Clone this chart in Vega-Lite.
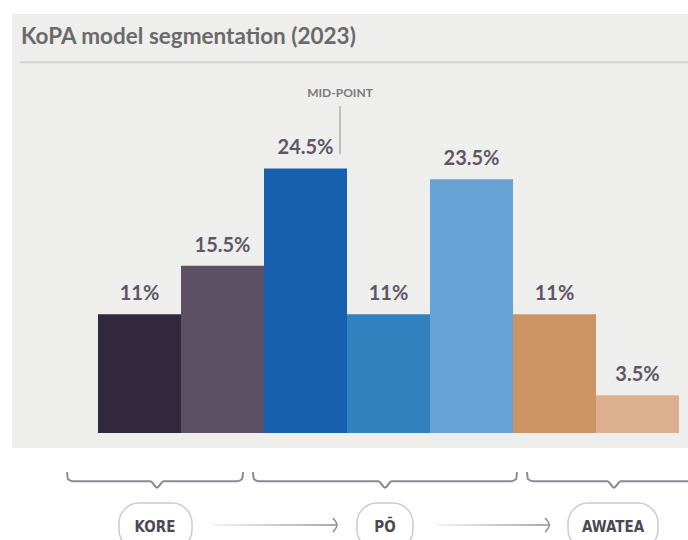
{
  "$schema": "https://vega.github.io/schema/vega-lite/v6.json",
  "width": 688,
  "height": 540,
  "autosize": {"type": "none"},
  "padding": 0,
  "background": "#ffffff",
  "config": {"view": {"stroke": null}, "font": "Lato"},
  "resolve": {"scale": {"x": "independent"}},
  "layer": [
    {
      "layer": [
        {
          "data": {"values": [{"x": -1.0361, "x2": 7.1084, "y": -1.3815, "y2": 38.8}]},
          "mark": {"type": "rect", "color": "#eeeeec"},
          "encoding": {
            "x": {"field": "x", "type": "quantitative", "scale": {"domain": [-1.1807, 7.1084], "nice": false, "zero": false}, "axis": null},
            "x2": {"field": "x2"},
            "y": {"field": "y", "type": "quantitative", "scale": {"domain": [-9.9, 40.1], "nice": false, "zero": false}, "axis": null},
            "y2": {"field": "y2"}
          }
        },
        {
          "data": {"values": [{"x": -0.9398, "x2": 7.1084, "y": 34.33}]},
          "mark": {"type": "rule", "color": "#d3d3d1", "strokeWidth": 2},
          "encoding": {
            "x": {"field": "x", "type": "quantitative", "scale": {"domain": [-1.1807, 7.1084], "nice": false, "zero": false}, "axis": null},
            "x2": {"field": "x2"},
            "y": {"field": "y", "type": "quantitative", "scale": {"domain": [-9.9, 40.1], "nice": false, "zero": false}, "axis": null}
          }
        },
        {
          "data": {"values": [{"x": -0.928, "y": 36.03, "text": "KoPA model segmentation (2023)"}]},
          "mark": {"type": "text", "align": "left", "baseline": "alphabetic", "fontSize": 22.5, "fontWeight": "bold", "color": "#6b6a6a", "font": "Lato"},
          "encoding": {
            "x": {"field": "x", "type": "quantitative", "scale": {"domain": [-1.1807, 7.1084], "nice": false, "zero": false}, "axis": null},
            "y": {"field": "y", "type": "quantitative", "scale": {"domain": [-9.9, 40.1], "nice": false, "zero": false}, "axis": null},
            "text": {"field": "text"}
          }
        }
      ]
    },
    {
      "data": {
        "values": [
          {"segment": "Kore A", "value": 11, "label": "11%"},
          {"segment": "Kore B", "value": 15.5, "label": "15.5%"},
          {"segment": "Pō A", "value": 24.5, "label": "24.5%"},
          {"segment": "Pō B", "value": 11, "label": "11%"},
          {"segment": "Pō C", "value": 23.5, "label": "23.5%"},
          {"segment": "Awatea A", "value": 11, "label": "11%"},
          {"segment": "Awatea B", "value": 3.5, "label": "3.5%"}
        ]
      },
      "encoding": {
        "x": {
          "field": "segment", "type": "nominal", "axis": null,
          "scale": {
            "domain": ["Kore A", "Kore B", "Pō A", "Pō B", "Pō C", "Awatea A", "Awatea B"],
            "paddingInner": 0, "paddingOuter": 0.64458, "align": 0.91589
          }
        },
        "y": {"field": "value", "type": "quantitative", "scale": {"domain": [-9.9, 40.1], "nice": false, "zero": false}, "axis": null}
      },
      "layer": [
        {
          "mark": {"type": "bar"},
          "encoding": {
            "color": {
              "field": "segment", "type": "nominal", "legend": null,
              "scale": {
                "domain": ["Kore A", "Kore B", "Pō A", "Pō B", "Pō C", "Awatea A", "Awatea B"],
                "range": ["#33293f", "#5b5064", "#1660ae", "#3282c0", "#66a2d3", "#cc9365", "#dcb08e"]
              }
            }
          }
        },
        {
          "mark": {"type": "text", "dy": -14, "baseline": "alphabetic", "fontSize": 20, "fontWeight": "bold", "color": "#5e5667", "font": "Lato"},
          "encoding": {"text": {"field": "label"}}
        }
      ]
    },
    {
      "layer": [
        {
          "data": {"values": [{"x": 2.916, "y": 30.28, "y2": 25.84}]},
          "mark": {"type": "rule", "color": "#b0b0b0", "strokeWidth": 1.5},
          "encoding": {
            "x": {"field": "x", "type": "quantitative", "scale": {"domain": [-1.1807, 7.1084], "nice": false, "zero": false}, "axis": null},
            "y": {"field": "y", "type": "quantitative", "scale": {"domain": [-9.9, 40.1], "nice": false, "zero": false}, "axis": null},
            "y2": {"field": "y2"}
          }
        },
        {
          "data": {"values": [{"x": 2.916, "y": 31.12, "text": "MID-POINT"}]},
          "mark": {"type": "text", "align": "center", "baseline": "alphabetic", "fontSize": 12, "fontWeight": "bold", "color": "#7b7b7e", "font": "Lato"},
          "encoding": {
            "x": {"field": "x", "type": "quantitative", "scale": {"domain": [-1.1807, 7.1084], "nice": false, "zero": false}, "axis": null},
            "y": {"field": "y", "type": "quantitative", "scale": {"domain": [-9.9, 40.1], "nice": false, "zero": false}, "axis": null},
            "text": {"field": "text"}
          }
        },
        {
          "data": {
            "values": [
              {"b": "Kore", "o": 1, "x": -0.373, "y": -3.62},
              {"b": "Kore", "o": 2, "x": -0.363, "y": -4.25},
              {"b": "Kore", "o": 3, "x": -0.303, "y": -4.45},
              {"b": "Kore", "o": 4, "x": 0.631, "y": -4.45},
              {"b": "Kore", "o": 5, "x": 0.711, "y": -5.05},
              {"b": "Kore", "o": 6, "x": 0.791, "y": -4.45},
              {"b": "Kore", "o": 7, "x": 1.677, "y": -4.45},
              {"b": "Kore", "o": 8, "x": 1.737, "y": -4.25},
              {"b": "Kore", "o": 9, "x": 1.747, "y": -3.62},
              {"b": "Po", "o": 1, "x": 1.867, "y": -3.62},
              {"b": "Po", "o": 2, "x": 1.877, "y": -4.25},
              {"b": "Po", "o": 3, "x": 1.937, "y": -4.45},
              {"b": "Po", "o": 4, "x": 3.378, "y": -4.45},
              {"b": "Po", "o": 5, "x": 3.458, "y": -5.05},
              {"b": "Po", "o": 6, "x": 3.538, "y": -4.45},
              {"b": "Po", "o": 7, "x": 4.978, "y": -4.45},
              {"b": "Po", "o": 8, "x": 5.038, "y": -4.25},
              {"b": "Po", "o": 9, "x": 5.048, "y": -3.62},
              {"b": "Awatea", "o": 1, "x": 5.169, "y": -3.62},
              {"b": "Awatea", "o": 2, "x": 5.179, "y": -4.25},
              {"b": "Awatea", "o": 3, "x": 5.239, "y": -4.45},
              {"b": "Awatea", "o": 4, "x": 6.137, "y": -4.45},
              {"b": "Awatea", "o": 5, "x": 6.217, "y": -5.05},
              {"b": "Awatea", "o": 6, "x": 6.297, "y": -4.45},
              {"b": "Awatea", "o": 7, "x": 7.3, "y": -4.45}
            ]
          },
          "mark": {"type": "line", "interpolate": "monotone", "color": "#8d8893", "strokeWidth": 2},
          "encoding": {
            "x": {"field": "x", "type": "quantitative", "scale": {"domain": [-1.1807, 7.1084], "nice": false, "zero": false}, "axis": null},
            "y": {"field": "y", "type": "quantitative", "scale": {"domain": [-9.9, 40.1], "nice": false, "zero": false}, "axis": null},
            "detail": {"field": "b"},
            "order": {"field": "o", "type": "quantitative"}
          }
        },
        {
          "data": {
            "values": [
              {"x": 1.386, "x2": 2.87, "y": -8.45, "y2": -8.59},
              {"x": 4.084, "x2": 5.427, "y": -8.45, "y2": -8.59}
            ]
          },
          "mark": {
            "type": "rect",
            "fill": {"gradient": "linear", "x1": 0, "y1": 0, "x2": 1, "y2": 0, "stops": [{"offset": 0, "color": "#f0f0f0"}, {"offset": 1, "color": "#8e8995"}]}
          },
          "encoding": {
            "x": {"field": "x", "type": "quantitative", "scale": {"domain": [-1.1807, 7.1084], "nice": false, "zero": false}, "axis": null},
            "x2": {"field": "x2"},
            "y": {"field": "y", "type": "quantitative", "scale": {"domain": [-9.9, 40.1], "nice": false, "zero": false}, "axis": null},
            "y2": {"field": "y2"}
          }
        },
        {
          "data": {
            "values": [
              {"a": "1", "o": 1, "x": 2.83, "y": -7.87},
              {"a": "1", "o": 2, "x": 2.88, "y": -8.52},
              {"a": "1", "o": 3, "x": 2.83, "y": -9.17},
              {"a": "2", "o": 1, "x": 5.387, "y": -7.87},
              {"a": "2", "o": 2, "x": 5.437, "y": -8.52},
              {"a": "2", "o": 3, "x": 5.387, "y": -9.17}
            ]
          },
          "mark": {"type": "line", "interpolate": "cardinal", "color": "#8e8995", "strokeWidth": 1.5},
          "encoding": {
            "x": {"field": "x", "type": "quantitative", "scale": {"domain": [-1.1807, 7.1084], "nice": false, "zero": false}, "axis": null},
            "y": {"field": "y", "type": "quantitative", "scale": {"domain": [-9.9, 40.1], "nice": false, "zero": false}, "axis": null},
            "detail": {"field": "a"},
            "order": {"field": "o", "type": "quantitative"}
          }
        },
        {
          "data": {
            "values": [
              {"x": 0.253, "x2": 1.133, "y": -6.48, "y2": -10.8},
              {"x": 3.12, "x2": 3.795, "y": -6.48, "y2": -10.8},
              {"x": 5.663, "x2": 6.747, "y": -6.48, "y2": -10.8}
            ]
          },
          "mark": {"type": "rect", "cornerRadius": 20, "fill": "#ffffff", "stroke": "#cccccc", "strokeWidth": 1.5},
          "encoding": {
            "x": {"field": "x", "type": "quantitative", "scale": {"domain": [-1.1807, 7.1084], "nice": false, "zero": false}, "axis": null},
            "x2": {"field": "x2"},
            "y": {"field": "y", "type": "quantitative", "scale": {"domain": [-9.9, 40.1], "nice": false, "zero": false}, "axis": null},
            "y2": {"field": "y2"}
          }
        },
        {
          "data": {
            "values": [
              {"x": 0.687, "y": -9.15, "text": "KORE"},
              {"x": 3.458, "y": -9.15, "text": "PŌ"},
              {"x": 6.205, "y": -9.15, "text": "AWATEA"}
            ]
          },
          "mark": {"type": "text", "align": "center", "baseline": "alphabetic", "fontSize": 15, "fontWeight": "bold", "color": "#4d4853", "font": "DejaVu Sans Condensed, sans-serif"},
          "encoding": {
            "x": {"field": "x", "type": "quantitative", "scale": {"domain": [-1.1807, 7.1084], "nice": false, "zero": false}, "axis": null},
            "y": {"field": "y", "type": "quantitative", "scale": {"domain": [-9.9, 40.1], "nice": false, "zero": false}, "axis": null},
            "text": {"field": "text"}
          }
        }
      ]
    }
  ]
}
